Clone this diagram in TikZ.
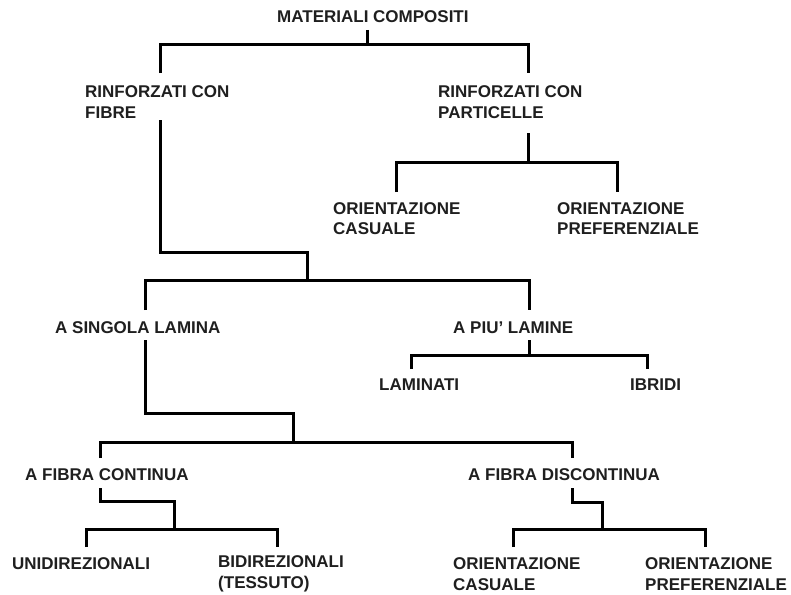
\documentclass[tikz,border=0pt]{standalone}
\usepackage{fontspec}
\setmainfont{Liberation Sans}
\begin{document}
\begin{tikzpicture}[x=1pt,y=-1pt,
  label/.style={anchor=west,inner sep=0pt,align=left,text=black!88,
    font=\bfseries\fontsize{17}{20.5}\selectfont},
  conn/.style={line width=3pt,line join=miter,draw=black}]
\fill[white] (0,0) rectangle (791,594);
\useasboundingbox (0,0) rectangle (791,594);

% category labels
\node[label] (top)   at (277,17)    {MATERIALI COMPOSITI};
\node[label] (rfib)  at (85,102)    {RINFORZATI CON\\FIBRE};
\node[label] (rpart) at (438,102)   {RINFORZATI CON\\PARTICELLE};
\node[label] (ocA)   at (333,218.5) {ORIENTAZIONE\\CASUALE};
\node[label] (opA)   at (557,218.5) {ORIENTAZIONE\\PREFERENZIALE};
\node[label] (sing)  at (55,328)    {A SINGOLA LAMINA};
\node[label] (piu)   at (453,328)   {A PIU' LAMINE};
\node[label] (lam)   at (379,385)   {LAMINATI};
\node[label] (ibr)   at (630,385)   {IBRIDI};
\node[label] (cont)  at (25,475)    {A FIBRA CONTINUA};
\node[label] (disc)  at (468,475)   {A FIBRA DISCONTINUA};
\node[label] (uni)   at (12,564)    {UNIDIREZIONALI};
\node[label] (bid)   at (218,574)   {BIDIREZIONALI\\(TESSUTO)};
\node[label] (ocB)   at (453,574)   {ORIENTAZIONE\\CASUALE};
\node[label] (opB)   at (645,574)   {ORIENTAZIONE\\PREFERENZIALE};

% connector end points
\coordinate (top-s)   at (367,30);
\coordinate (rfib-n)  at (160,73);
\coordinate (rpart-n) at (528,73);
\coordinate (rfib-s)  at (160,120);
\coordinate (rpart-s) at (528,133);
\coordinate (ocA-n)   at (396,192);
\coordinate (opA-n)   at (617,192);
\coordinate (sing-n)  at (145,310);
\coordinate (piu-n)   at (529,310);
\coordinate (sing-s)  at (145,340);
\coordinate (piu-s)   at (529,340);
\coordinate (lam-n)   at (411,369);
\coordinate (ibr-n)   at (647,369);
\coordinate (cont-n)  at (100,458);
\coordinate (disc-n)  at (572,458);
\coordinate (cont-s)  at (100,488);
\coordinate (disc-s)  at (572,488);
\coordinate (uni-n)   at (86,547);
\coordinate (bid-n)   at (277,547);
\coordinate (ocB-n)   at (513,547);
\coordinate (opB-n)   at (705,547);

% materiali compositi
\draw[conn] (top-s) -- (367,45);
\draw[conn] (rfib-n) |- (rpart-n |- 0,45) -- (rpart-n);
% rinforzati con particelle
\draw[conn] (rpart-s) -- (528,162);
\draw[conn] (ocA-n) |- (opA-n |- 0,162) -- (opA-n);
% rinforzati con fibre
\draw[conn] (rfib-s) |- (307,252) -- (307,280);
\draw[conn] (sing-n) |- (piu-n |- 0,280) -- (piu-n);
% a piu' lamine
\draw[conn] (piu-s) -- (529,355);
\draw[conn] (lam-n) |- (ibr-n |- 0,355) -- (ibr-n);
% a singola lamina
\draw[conn] (sing-s) |- (293,413) -- (293,442);
\draw[conn] (cont-n) |- (disc-n |- 0,442) -- (disc-n);
% a fibra continua
\draw[conn] (cont-s) |- (174,501) -- (174,529);
\draw[conn] (uni-n) |- (bid-n |- 0,529) -- (bid-n);
% a fibra discontinua
\draw[conn] (disc-s) |- (602,502) -- (602,529);
\draw[conn] (ocB-n) |- (opB-n |- 0,529) -- (opB-n);
\end{tikzpicture}
\end{document}
